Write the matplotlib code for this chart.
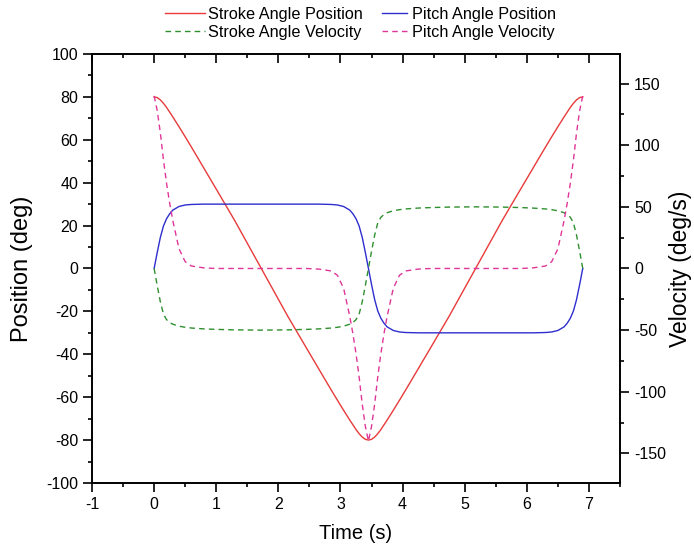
import matplotlib
matplotlib.use("Agg")
import matplotlib.pyplot as plt
from matplotlib.ticker import MultipleLocator

plt.rcParams["font.family"] = ["Liberation Sans", "DejaVu Sans"]
plt.rcParams["axes.unicode_minus"] = False

# data
time = [0, 0.05, 0.1, 0.15, 0.2, 0.25, 0.3, 0.4, 0.5, 0.6, 0.8, 1.0, 1.3, 1.725,
        2.15, 2.45, 2.65, 2.85, 2.95, 3.05, 3.15, 3.2, 3.25, 3.3, 3.35, 3.4, 3.45,
        3.5, 3.55, 3.6, 3.65, 3.7, 3.75, 3.85, 3.95, 4.05, 4.25, 4.45, 4.75, 5.175,
        5.6, 5.9, 6.1, 6.3, 6.4, 6.5, 6.6, 6.65, 6.7, 6.75, 6.8, 6.85, 6.9]

stroke_pos = [80, 79.65, 78.6, 77.0, 75.1, 72.9, 70.7, 66.1, 61.4, 56.6, 46.8, 37.0, 22.2, 0,
              -22.2, -37.0, -46.8, -56.6, -61.4, -66.1, -70.7, -72.9, -75.1, -77.0, -78.6, -79.65, -80,
              -79.65, -78.6, -77.0, -75.1, -72.9, -70.7, -66.1, -61.4, -56.6, -46.8, -37.0, -22.2, 0,
              22.2, 37.0, 46.8, 56.6, 61.4, 66.1, 70.7, 72.9, 75.1, 77.0, 78.6, 79.65, 80]

pitch_pos = [0, 7.5, 14.5, 19.8, 23.2, 25.5, 27.2, 28.9, 29.6, 29.85, 30.0, 30.0, 30.0, 30.0,
             30.0, 30.0, 30.0, 29.85, 29.6, 28.9, 27.2, 25.5, 23.2, 19.8, 14.5, 7.5, 0,
             -7.5, -14.5, -19.8, -23.2, -25.5, -27.2, -28.9, -29.6, -29.85, -30.0, -30.0, -30.0, -30.0,
             -30.0, -30.0, -30.0, -29.85, -29.6, -28.9, -27.2, -25.5, -23.2, -19.8, -14.5, -7.5, 0]

stroke_vel = [0, -14, -27, -37, -41.5, -43.8, -45.2, -46.8, -47.7, -48.3, -49.0, -49.4, -49.8, -50,
              -49.8, -49.4, -49.0, -48.3, -47.7, -46.8, -45.2, -43.8, -41.5, -37, -27, -14, 0,
              14, 27, 37, 41.5, 43.8, 45.2, 46.8, 47.7, 48.3, 49.0, 49.4, 49.8, 50,
              49.8, 49.4, 49.0, 48.3, 47.7, 46.8, 45.2, 43.8, 41.5, 37, 27, 14, 0]

pitch_vel = [140, 128, 110, 88, 69, 53, 39, 16, 5.5, 2, 0.5, 0, 0, 0,
             0, 0, -0.5, -2, -5.5, -16, -39, -53, -69, -88, -110, -128, -140,
             -128, -110, -88, -69, -53, -39, -16, -5.5, -2, -0.5, 0, 0, 0,
             0, 0, 0.5, 2, 5.5, 16, 39, 53, 69, 88, 110, 128, 140]

fig = plt.figure(figsize=(6.94, 5.53), dpi=100)
ax = fig.add_axes([0.1326, 0.1266, 0.7608, 0.7758])
ax2 = ax.twinx()

dash = (0, (4, 3))
l1, = ax.plot(time, stroke_pos, color="#e83a3a", lw=1.0, label="Stroke Angle Position")
l2, = ax.plot(time, pitch_pos, color="#2e2ecf", lw=1.0, label="Pitch Angle Position")
l3, = ax2.plot(time, stroke_vel, color="#2f8f2f", lw=1.0, ls=dash, label="Stroke Angle Velocity")
l4, = ax2.plot(time, pitch_vel, color="#e0369a", lw=1.0, ls=dash, label="Pitch Angle Velocity")

ax.set_xlim(-1, 7.5)
ax.set_ylim(-100, 100)
ax2.set_ylim(-174, 174)

ax.xaxis.set_major_locator(MultipleLocator(1))
ax.xaxis.set_minor_locator(MultipleLocator(0.5))
ax.yaxis.set_major_locator(MultipleLocator(20))
ax.yaxis.set_minor_locator(MultipleLocator(10))
ax2.yaxis.set_major_locator(MultipleLocator(50))
ax2.yaxis.set_minor_locator(MultipleLocator(25))

ax.tick_params(axis="x", which="both", direction="out", top=True)
ax.tick_params(axis="y", which="both", direction="out", right=False)
ax.tick_params(which="major", length=6.5, width=1.2, labelsize=11.5)
ax.tick_params(which="minor", length=3, width=1.2)
ax2.tick_params(which="major", direction="out", length=6.5, width=1.2, labelsize=11.5)
ax2.tick_params(which="minor", direction="out", length=3, width=1.2)

for sp in ax.spines.values():
    sp.set_linewidth(1.2)
for sp in ax2.spines.values():
    sp.set_linewidth(1.2)

# top ticks point inward
for t in ax.xaxis.get_major_ticks() + ax.xaxis.get_minor_ticks():
    t.tick2line.set_marker(3)

ax.set_xlabel("Time (s)", fontsize=14.5)
ax.set_ylabel("Position (deg)", fontsize=17)
ax2.set_ylabel("Velocity (deg/s)", fontsize=16.5)
ax.xaxis.set_label_coords(0.5, -0.095)
ax.yaxis.set_label_coords(-0.112, 0.5)
ax2.yaxis.set_label_coords(1.092, 0.5)

# legend: two columns, drawn as two legends (second column has shorter handles)
leg_kw = dict(loc="upper left", frameon=False, fontsize=11.7, borderpad=0,
              borderaxespad=0, labelspacing=0.2)
fig.legend(handles=[l1, l3], bbox_to_anchor=(165 / 694, 0.988),
           handlelength=2.45, handletextpad=0.2, **leg_kw)
fig.legend(handles=[l2, l4], bbox_to_anchor=(382 / 694, 0.988),
           handlelength=1.55, handletextpad=0.3, **leg_kw)

fig.savefig("out.png", dpi=100)
